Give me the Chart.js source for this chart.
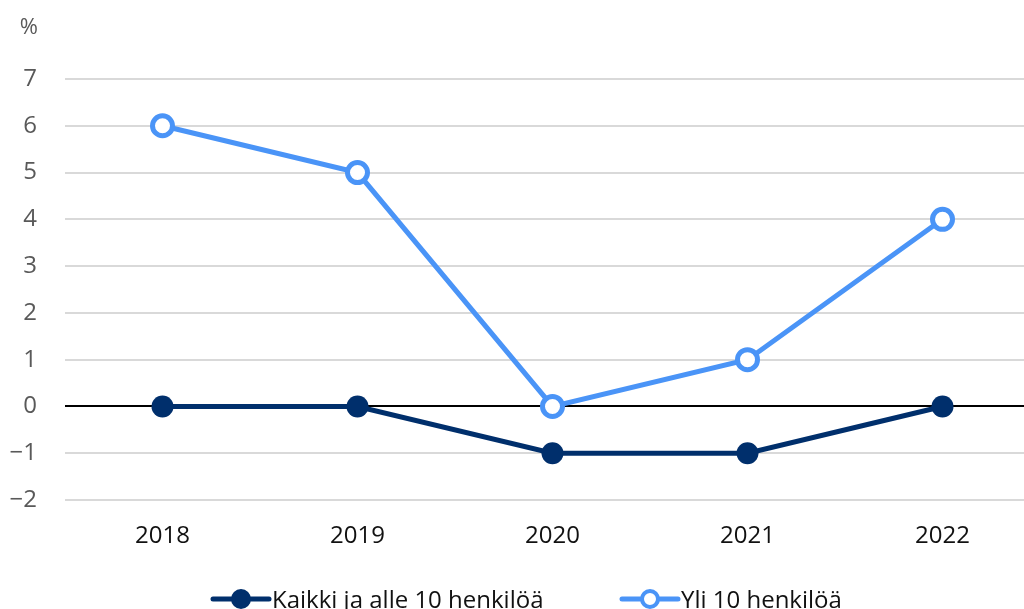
<!DOCTYPE html>
<html><head><meta charset="utf-8">
<script src="https://cdn.jsdelivr.net/npm/chart.js@4"></script>
<style>html,body{margin:0;padding:0;overflow:hidden;background:#fff;width:1024px;height:609px}
#wrap{position:absolute;left:0;top:0;width:1060px;height:609px}</style>
</head><body>
<div id="wrap"><canvas id="c" width="1055" height="609" style="width:1055px;height:609px"></canvas></div>
<script>
const years = ['2018','2019','2020','2021','2022'];
const seriesNames = ['Kaikki ja alle 10 henkilöä','Yli 10 henkilöä'];
const kaikki = [0, 0, -1, -1, 0];
const yli10 = [6, 5, 0, 1, 4];
const yTicks = [-2,-1,0,1,2,3,4,5,6,7];
const unitLabel = '%';

const DARK = '#002f6c', LIGHT = '#4a94f7';
const FONT = "'Open Sans', sans-serif";

const extras = {
  id: 'extras',
  afterDraw(chart) {
    const ctx = chart.ctx;
    ctx.save();
    ctx.fillStyle = '#595959';
    ctx.font = '22px ' + FONT;
    ctx.textAlign = 'right';
    ctx.textBaseline = 'middle';
    ctx.fillText(unitLabel, 38, 28);
    const items = [
      {x: 213, color: DARK, fill: DARK, text: seriesNames[0]},
      {x: 622, color: LIGHT, fill: '#fff', text: seriesNames[1]}
    ];
    ctx.textAlign = 'left';
    ctx.textBaseline = 'alphabetic';
    for (const it of items) {
      const y = 599;
      ctx.strokeStyle = it.color; ctx.lineWidth = 5; ctx.lineCap = 'round';
      ctx.beginPath(); ctx.moveTo(it.x, y); ctx.lineTo(it.x + 56, y); ctx.stroke();
      ctx.beginPath(); ctx.arc(it.x + 28, y, 8, 0, Math.PI*2);
      ctx.fillStyle = it.fill; ctx.fill(); ctx.lineWidth = 4; ctx.stroke();
      ctx.fillStyle = '#111';
      ctx.font = '24px ' + FONT;
      ctx.fillText(it.text, it.x + 59, 608);
    }
    ctx.restore();
  }
};

new Chart(document.getElementById('c'), {
  type: 'line',
  data: {
    labels: years,
    datasets: [
      {label: seriesNames[1], data: yli10, borderColor: LIGHT, backgroundColor: '#fff',
       borderWidth: 5, pointRadius: 10, pointBorderWidth: 5, pointBackgroundColor: '#fff',
       pointBorderColor: LIGHT, tension: 0, order: 1},
      {label: seriesNames[0], data: kaikki, borderColor: DARK, backgroundColor: DARK,
       borderWidth: 5, pointRadius: 11, pointBorderWidth: 0, pointBackgroundColor: DARK,
       tension: 0, order: 2}
    ]
  },
  options: {
    responsive: false, animation: false, devicePixelRatio: 1,
    layout: {padding: {top: 79, right: 3, left: 0, bottom: 0}},
    plugins: {legend: {display: false}, tooltip: {enabled: false}},
    scales: {
      x: {
        offset: true,
        grid: {display: false, drawTicks: false},
        border: {display: false},
        ticks: {color: '#111', font: {family: FONT, size: 24}, padding: 22},
        afterFit(s) { s.height = 109; }
      },
      y: {
        min: -2, max: 7,
        afterBuildTicks(s) { s.ticks = yTicks.map(v => ({value: v})); },
        grid: {drawTicks: false, lineWidth: 2,
               color: c => c.tick && c.tick.value === 0 ? '#000' : '#d9d9d9'},
        border: {display: false},
        ticks: {color: '#595959', font: {family: FONT, size: 24}, padding: 28,
                callback: v => String(v).replace('-', '\u2212')},
        afterFit(s) { s.width = 65; }
      }
    }
  },
  plugins: [extras]
});
</script>
</body></html>
